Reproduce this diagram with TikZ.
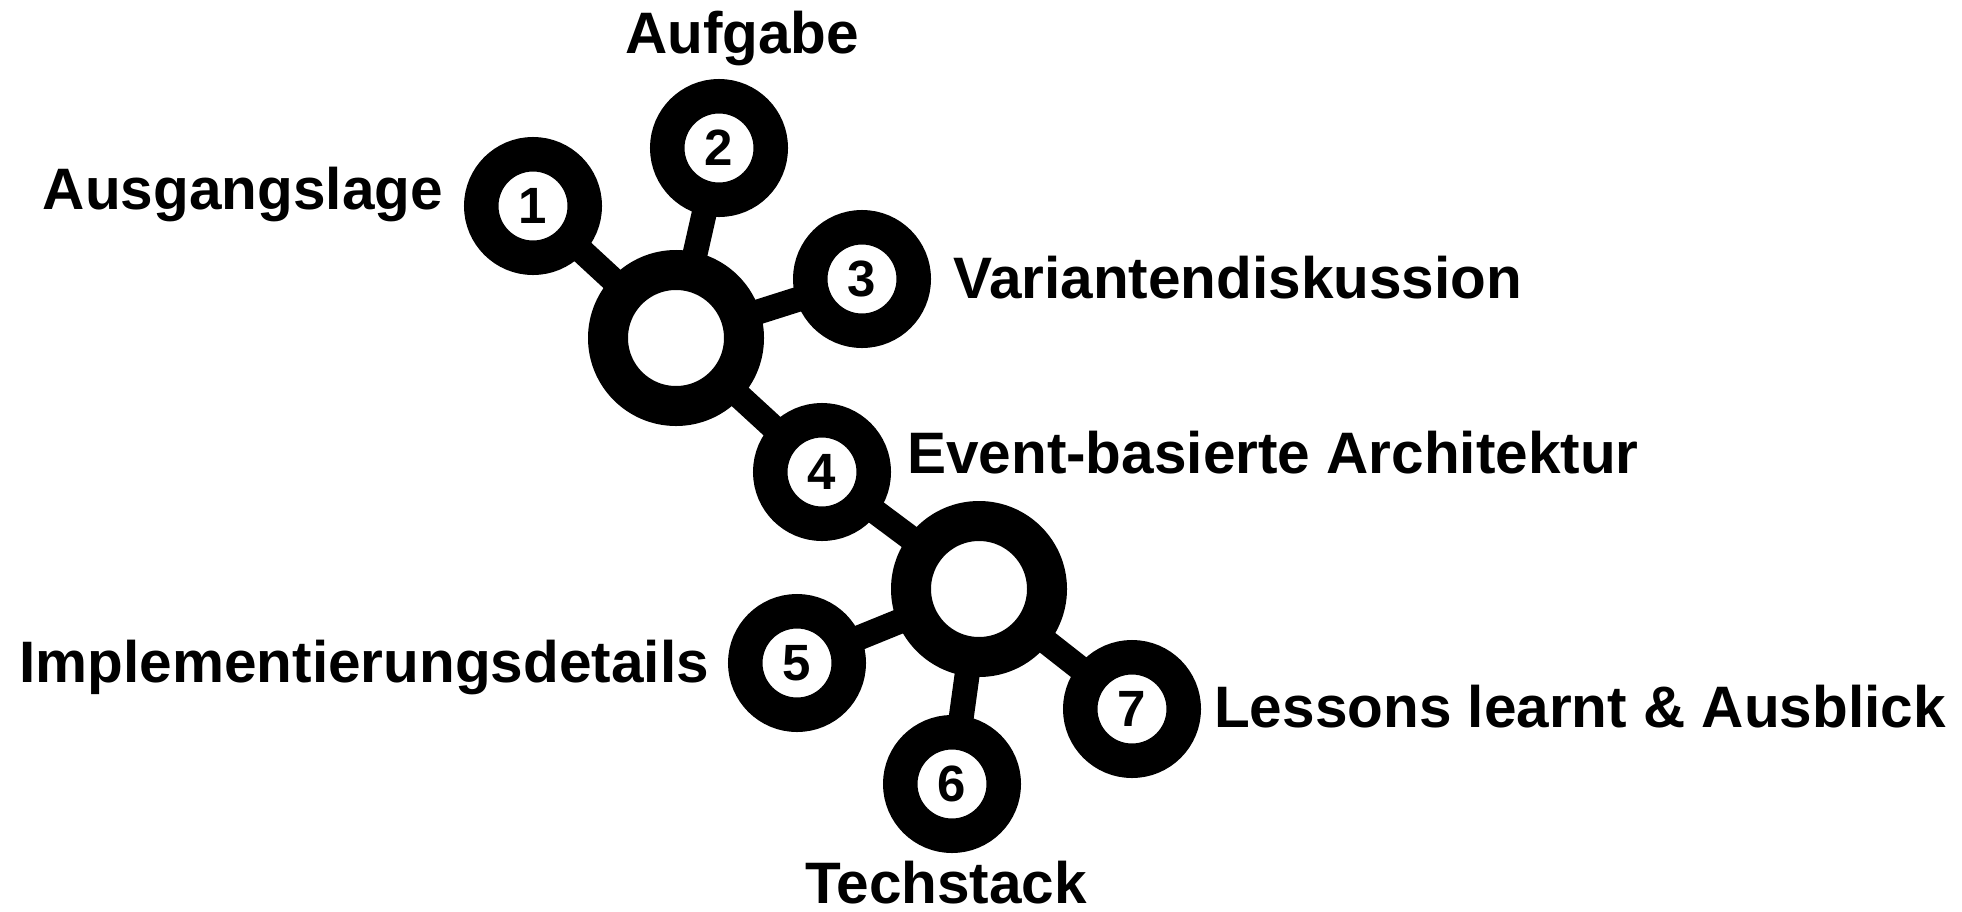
\documentclass[tikz,border=0pt]{standalone}
\usepackage{fontspec}
\setmainfont{Liberation Sans}
\usetikzlibrary{backgrounds}
\begin{document}
\begin{tikzpicture}[x=1pt,y=-1pt,
  ring/.style={circle, draw=black, fill=white, line width=34.5pt,
    minimum size=103.5pt, inner sep=0pt,
    font=\fontsize{51}{60}\selectfont\bfseries},
  hub/.style={circle, draw=black, fill=white, line width=40pt,
    minimum size=136pt, inner sep=0pt},
  link/.style={draw=black, line width=25pt},
  caption/.style={inner sep=0pt, font=\fontsize{58.5}{70}\selectfont\bfseries}]

\useasboundingbox (0,0) rectangle (1962,911);

% chapter rings and the two hubs
\node[ring] (s1) at (533,206) {1};
\node[ring] (s2) at (719,148) {2};
\node[ring] (s3) at (862,279) {3};
\node[hub]  (h1) at (676,338) {};
\node[ring] (s4) at (822,472) {4};
\node[hub]  (h2) at (979,589) {};
\node[ring] (s5) at (797,663) {5};
\node[ring] (s6) at (952,784) {6};
\node[ring] (s7) at (1132,709) {7};

% spokes, drawn behind the rings
\begin{scope}[on background layer]
  \draw[link] (s1.center) -- (h1.center);
  \draw[link] (s2.center) -- (h1.center);
  \draw[link] (s3.center) -- (h1.center);
  \draw[link] (h1.center) -- (s4.center);
  \draw[link] (s4.center) -- (h2.center);
  \draw[link] (h2.center) -- (s5.center);
  \draw[link] (h2.center) -- (s6.center);
  \draw[link] (h2.center) -- (s7.center);
\end{scope}

% chapter titles
\node[caption, anchor=base east] (t1) at (443,209) {Ausgangslage};
\node[caption, anchor=base west] (t2) at (625,53) {Aufgabe};
\node[caption, anchor=base west] (t3) at (953,298) {Variantendiskussion};
\node[caption, anchor=base west] (t4) at (907,473) {Event-basierte Architektur};
\node[caption, anchor=base east] (t5) at (709,682) {Implementierungsdetails};
\node[caption, anchor=base west] (t6) at (805,903) {Techstack};
\node[caption, anchor=base west] (t7) at (1214,727) {Lessons learnt \& Ausblick};

\end{tikzpicture}
\end{document}
